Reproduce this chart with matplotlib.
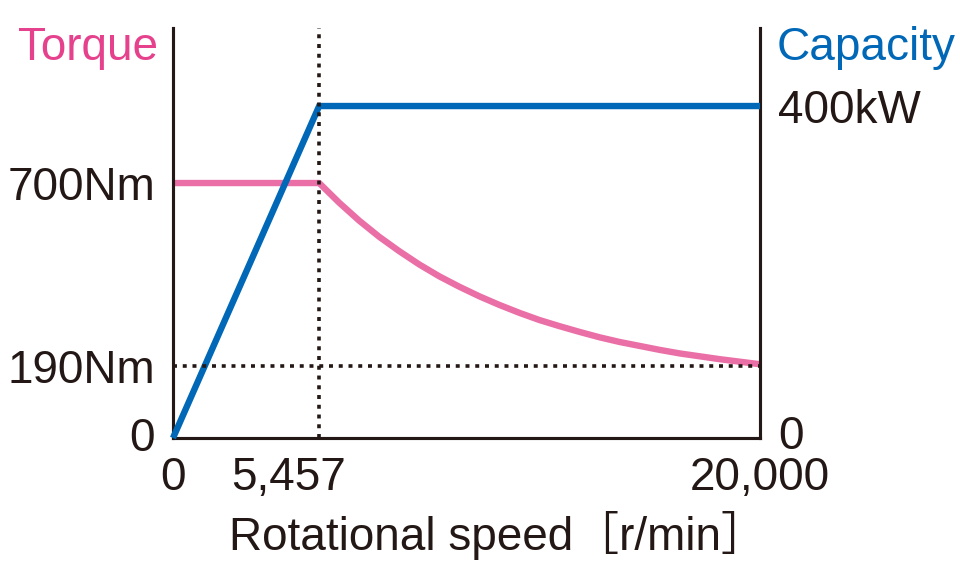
import numpy as np
import matplotlib
matplotlib.use('Agg')
import matplotlib.pyplot as plt
from matplotlib.transforms import ScaledTranslation

# torque curve (speed in r/min, torque in Nm)
speed_torque = [0, 5457, 6120, 6780, 7440, 8100, 8760, 9420, 10080, 10750,
                11410, 12070, 12730, 13390, 14050, 14710, 15370, 16030, 16690,
                17360, 18020, 18680, 19340, 20000]
torque = [700, 700, 645, 595, 550, 510, 473, 440, 411, 384,
          360, 338, 318, 301, 285, 270, 257, 246, 235,
          225, 217, 209, 202, 195]

# output capacity (kW)
speed_capacity = [0, 5457, 20000]
capacity = [0, 400, 400]

base_speed = 5457
max_speed = 20000
min_torque = 190

x_ticks = [0, 5457, 20000]
x_tick_labels = ['0', '5,457', '20,000']
torque_ticks = [0, 190, 700]
torque_tick_labels = ['0', '190Nm', '700Nm']
capacity_ticks = [0, 400]
capacity_tick_labels = ['0', '400kW']

PINK = '#EA6FA6'
PINK_TXT = '#E5418D'
BLUE = '#0068B7'
INK = '#231815'

plt.rcParams['font.family'] = ['Liberation Sans', 'Noto Sans CJK JP', 'DejaVu Sans']

fig = plt.figure(figsize=(9.6, 5.8), dpi=100)
ax = fig.add_axes([0.1802, 0.2448, 0.6115, 0.7069])
ax2 = ax.twinx()

# schematic speed axis: base speed sits at about a quarter of the width
knots = [0, base_speed, max_speed]
knot_pos = [0, 0.249, 1]
ax.set_xscale('function', functions=(lambda v: np.interp(v, knots, knot_pos),
                                     lambda v: np.interp(v, knot_pos, knots)))
ax.set_xlim(0, max_speed)
ax.set_ylim(-10.6, 1132)
ax2.set_ylim(0, 494)

ax.plot(speed_torque, torque, color=PINK, lw=4.6, solid_capstyle='butt',
        solid_joinstyle='round', zorder=2)
ax2.plot(speed_capacity, capacity, color=BLUE, lw=4.6, solid_capstyle='butt',
         solid_joinstyle='miter', zorder=3, clip_on=False)

# dotted guides on top of both curves
dot = dict(color=INK, lw=2.6, linestyle=(0, (1.1, 1.6)), zorder=5)
ax2.axvline(base_speed, **dot)
ax2.plot([0, max_speed], [min_torque, min_torque], transform=ax.transData, **dot)

for a in (ax, ax2):
    a.spines['top'].set_visible(False)
    for s in a.spines.values():
        s.set_linewidth(2.2)
        s.set_color(INK)
    a.tick_params(length=0, labelsize=33, colors=INK)

ax.set_xticks(x_ticks, x_tick_labels)
ax.tick_params(axis='x', pad=13)
ax.set_yticks(torque_ticks, torque_tick_labels)
ax.tick_params(axis='y', pad=13)
ax2.set_yticks(capacity_ticks, capacity_tick_labels)
ax2.tick_params(axis='y', pad=13)

# the base-speed label sits a little left of its guide line
lbl = ax.get_xticklabels()[1]
lbl.set_transform(lbl.get_transform() + ScaledTranslation(-0.31, 0, fig.dpi_scale_trans))
# right-hand zero is lifted a bit above the baseline
lbl0 = ax2.get_yticklabels()[0]
lbl0.set_transform(lbl0.get_transform() + ScaledTranslation(0, 0.06, fig.dpi_scale_trans))

fig.text(0.1646, 0.918, 'Torque', color=PINK_TXT, fontsize=33, ha='right', va='center')
fig.text(0.809, 0.918, 'Capacity', color=BLUE, fontsize=33, ha='left', va='center')
fig.text(0.519, 0.076, 'Rotational speed［r/min］', color=INK, fontsize=33,
         ha='center', va='center')

fig.savefig('out.png', dpi=100)
